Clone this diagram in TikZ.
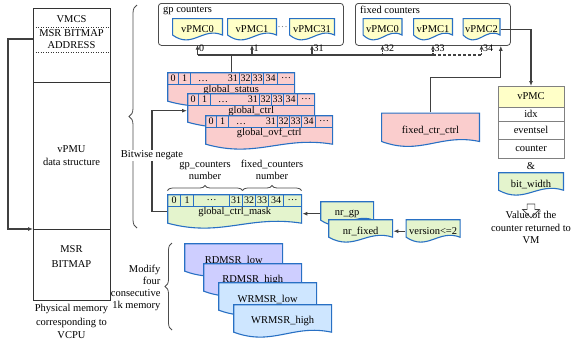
\documentclass[tikz,border=0pt]{standalone}
\usepackage{fontspec}
\setmainfont{Liberation Serif}
\usetikzlibrary{arrows.meta,
                calc,
                decorations.pathreplacing,
                positioning,
                shapes.arrows}

\definecolor{docblue}{RGB}{40,112,196}
\definecolor{pinkfill}{RGB}{250,205,205}
\definecolor{yellowfill}{RGB}{255,255,200}
\definecolor{greenfill}{RGB}{228,244,205}
\definecolor{rdfill}{RGB}{206,206,255}
\definecolor{wrfill}{RGB}{206,230,255}
\definecolor{wiregray}{RGB}{64,64,64}

% document shape with a wavy bottom edge
\newcommand\docpath[1]{%
  \path[fill=#1, draw=docblue, line width=1.1pt]
    ([shift={(0.55pt,-0.55pt)}]path picture bounding box.north west)
    -- ([shift={(-0.55pt,-0.55pt)}]path picture bounding box.north east)
    -- ([shift={(-0.55pt,6pt)}]path picture bounding box.south east)
    .. controls ($(path picture bounding box.south west)!0.6!(path picture bounding box.south east)+(0,14.4pt)$)
    and ($(path picture bounding box.south west)!0.4!(path picture bounding box.south east)+(0,-8.4pt)$)
    .. ([shift={(0.55pt,6pt)}]path picture bounding box.south west) -- cycle;}

\newcommand\lastgp{\makebox[46pt]{\hspace{6pt}\dots\hfill31}}

\newcommand\bitrow[2]{%
  \node[inner sep=0pt, outer sep=0pt, minimum size=0pt] (#1-0) at ([shift={(0.5pt,-0.5pt)}]#1.north west) {};
  \foreach \bitw/\bitt [count=\i, remember=\i as \j (initially 0)] in {#2}
    \node[bit, minimum width=\bitw pt, anchor=north west] (#1-\i) at (#1-\j.north east) {\bitt};
}

\begin{document}
\begin{tikzpicture}[x=1pt, y=-1pt,
    every node/.style={font=\fontsize{10.5}{12.5}\selectfont},
    doc/.style={rectangle, inner sep=0pt, minimum height=23pt, path picture={\docpath{#1}}},
    reg/.style={doc=#1, minimum width=128pt, minimum height=35pt},
    bit/.style={draw=docblue, line width=0.8pt, inner sep=0pt, outer sep=0pt,
        minimum height=12pt, font=\fontsize{10}{10}\selectfont},
    group/.style={draw=black!70, rounded corners=3pt, line width=0.8pt},
    mem/.style={draw=black!80, line width=0.9pt, minimum width=77pt,
        inner sep=0pt, outer sep=0pt, align=center},
    field/.style={draw=black!50, line width=0.8pt, minimum width=66pt,
        inner sep=0pt, outer sep=0pt},
    wire/.style={draw=wiregray, line width=1.1pt},
    tick/.style={wire, ->, shorten >=3.5pt},
    num/.style={right, inner sep=1pt, font=\fontsize{10}{10}\selectfont},
    brace/.style={draw=black!70, line width=0.8pt, decorate, decoration={brace, amplitude=#1}},
    >={Latex[length=5pt,width=4pt]}
]
\useasboundingbox (0,0) rectangle (572,341);

% memory of the vcpu
\node[mem, minimum height=74pt, anchor=north west] (vmcs) at (33,8) {};
\node[mem, minimum height=147pt, below=0pt of vmcs] (vpmu) {vPMU\\data structure};
\node[mem, minimum height=71pt, text depth=16pt, below=0pt of vpmu] (bitmap) {MSR\\[2pt]BITMAP};
\node (vmcslabel) at (71.5,19) {VMCS};
\node[align=center, font=\fontsize{10.5}{12}\selectfont] (addr) at (71.5,39) {MSR BITMAP\\ADDRESS};
\draw[black!80, line width=1pt, dash pattern=on 1pt off 1.5pt] (33,27) -- (110,27) (33,52) -- (110,52);
\node[below=1pt of bitmap, align=center, font=\fontsize{10.5}{13.5}\selectfont] (phys) {Physical memory\\corresponding to\\VCPU};
\draw[wire,->] (vmcs.west |- addr) -- ++(-25,0) |- (bitmap.north west);

\draw[brace=8pt] (137,228) -- (137,5);
\draw[brace=7pt] (172,330) -- (172,243);
\node[anchor=east, align=right, font=\fontsize{10.5}{12}\selectfont] (modify) at (164,288) {Modify\\four\\consecutive\\1k memory};

% counters
\node[group, minimum width=185pt, minimum height=42pt, anchor=north west] (gp) at (158,3) {};
\node[anchor=north west, inner sep=1pt] (gplabel) at ([shift={(4pt,-2pt)}]gp.north west) {gp counters};
\node[doc=yellowfill, minimum width=51pt] (gp0) at (197.5,29.5) {vPMC0};
\node[doc=yellowfill, minimum width=50pt] (gp1) at (252,29.5) {vPMC1};
\node[text=gray, inner sep=0pt] (gpdots) at (282.5,27) {\dots};
\node[doc=yellowfill, minimum width=46pt] (gp31) at (312,29.5) {vPMC31};

\node[group, minimum width=155pt, minimum height=42pt, anchor=north west] (fixed) at (355,3) {};
\node[anchor=north west, inner sep=1pt] (fixedlabel) at ([shift={(4pt,-2pt)}]fixed.north west) {fixed counters};
\node[doc=yellowfill, minimum width=40pt] (fx0) at (382.5,29.5) {vPMC0};
\node[doc=yellowfill, minimum width=40pt] (fx1) at (433,29.5) {vPMC1};
\node[doc=yellowfill, minimum width=38pt] (fx2) at (481.5,29.5) {vPMC2};

\coordinate (bus) at (0,55);
\draw[wire] (gp0 |- bus) -- (fx1 |- bus);
\draw[wire, dash pattern=on 3pt off 2pt] (fx1 |- bus) -- (fx2 |- bus);
\draw[tick] (gp0 |- bus) -- node[num] {0} (gp0.south);
\draw[tick] (gp1 |- bus) -- node[num] {1} (gp1.south);
\draw[tick] (gp31 |- bus) -- node[num] {31} (gp31.south);
\draw[tick, dash pattern=on 2pt off 1.5pt] (fx0 |- bus) -- node[num] {32} (fx0.south);
\draw[tick, dash pattern=on 2pt off 1.5pt] (fx1 |- bus) -- node[num] {33} (fx1.south);
\draw[tick, dash pattern=on 2pt off 1.5pt] (fx2 |- bus) -- node[num] {34} (fx2.south);

% global registers
\node[reg=pinkfill, anchor=north west] (gstatus) at (167,72) {global\_status};
\bitrow{gstatus}{11/0,12/1,49/\lastgp,12/32,12/33,14/34,17/\dots}
\node[reg=pinkfill, anchor=north west] (gctrl) at ([shift={(20,21)}]gstatus.north west) {global\_ctrl};
\bitrow{gctrl}{11/0,12/1,49/\lastgp,12/32,12/33,14/34,17/\dots}
\node[reg=pinkfill, anchor=north west] (govf) at ([shift={(18,22)}]gctrl.north west) {global\_ovf\_ctrl};
\bitrow{govf}{11/0,12/1,49/\lastgp,12/32,12/33,14/34,17/\dots}
\draw[wire] (gstatus.north) -- (gstatus.north |- bus);

\node[doc=pinkfill, minimum width=99pt, minimum height=35pt] (fctrl) at (430.5,130) {fixed\_ctr\_ctrl};
\draw[wire,->] (fctrl.north) -- ++(0,-35) -| ([xshift=-10pt]fixed.south east);

% vPMC fields
\node[field, fill=yellowfill, minimum height=21pt, anchor=north] (vpmc) at (531,86) {vPMC};
\node[field, minimum height=14pt, below=0pt of vpmc] (idx) {idx};
\node[field, minimum height=18pt, below=0pt of idx] (evsel) {eventsel};
\node[field, minimum height=19pt, below=0pt of evsel] (counter) {counter};
\draw[wire,->] (fx2.east) -| (vpmc.north);
\node (amp) at (531,166) {\&};
\node[doc=greenfill, minimum width=66pt, minimum height=24pt, anchor=north] (bitw) at (531,172) {bit\_width};
\node[anchor=north, align=center] (ret) at (531,208) {Value of the\\counter returned to\\VM};
\node[single arrow, draw=black!75, line width=0.7pt, minimum width=17pt, minimum height=14pt,
    single arrow head extend=4pt, shape border rotate=270, inner sep=3pt] (down) at (531,209) {};

% mask
\node[reg=greenfill, minimum width=135pt, anchor=north west] (mask) at (167,194) {global\_ctrl\_mask};
\bitrow{mask}{13/0,13/1,36/\dots,13/31,13/32,13/33,15/34,18/\dots}
\draw[brace=5pt] ([yshift=4pt]mask-1.north west) -- node[above=7pt, align=center] (gpnum) {gp\_counters\\number} ([yshift=4pt]mask-4.north east);
\draw[brace=5pt] ([yshift=4pt]mask-5.north west) -- node[above=7pt, align=center] (fixednum) {fixed\_counters\\number} ([yshift=4pt]mask-8.north east);
\draw[wire,->] (mask.west) -- ++(-15,0) |- node[pos=0.28, fill=white, inner sep=1pt] (negate) {Bitwise negate} (gctrl.west);

\node[doc=greenfill, minimum width=54pt, minimum height=25pt, anchor=north west] (nrgp) at (320,201) {nr\_gp};
\node[doc=greenfill, minimum width=65pt, minimum height=24pt, anchor=north west] (nrfixed) at ([shift={(8,18)}]nrgp.north west) {nr\_fixed};
\node[doc=greenfill, minimum width=55pt, minimum height=24pt, anchor=north west] (version) at ([xshift=12pt]nrfixed.north east) {version<=2};
\draw[wire,->] (nrgp.west) -- (nrgp.west -| mask.east);
\draw[wire,->] (version.west) -- (nrfixed.east);

% msr bitmap pages
\node[doc=rdfill, minimum width=99pt, minimum height=34pt, anchor=north west] (rdlow) at (184,243) {RDMSR\_low};
\node[doc=rdfill, minimum width=99pt, minimum height=34pt, anchor=north west] (rdhigh) at ([shift={(19,20)}]rdlow.north west) {RDMSR\_high};
\node[doc=wrfill, minimum width=99pt, minimum height=34pt, anchor=north west] (wrlow) at ([shift={(15,19)}]rdhigh.north west) {WRMSR\_low};
\node[doc=wrfill, minimum width=99pt, minimum height=34pt, anchor=north west] (wrhigh) at ([shift={(15,22)}]wrlow.north west) {WRMSR\_high};
\end{tikzpicture}
\end{document}
